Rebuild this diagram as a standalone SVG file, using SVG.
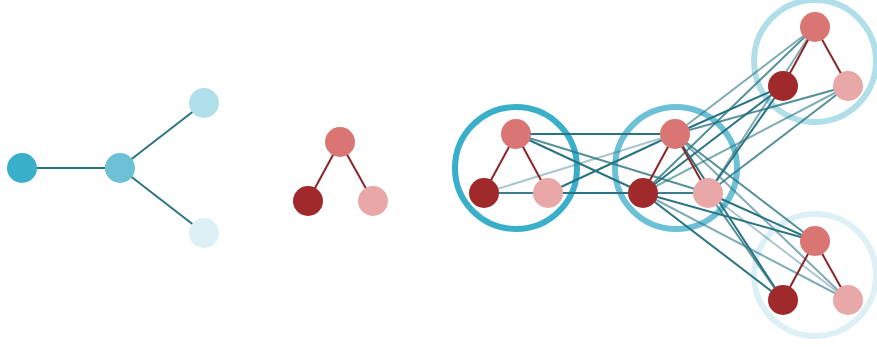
<svg xmlns="http://www.w3.org/2000/svg" width="877" height="347" viewBox="0 0 877 347">
<style>
.e{stroke:#2a7482;stroke-width:2;fill:none}
.l1{stroke-opacity:1}.l2{stroke-opacity:0.8}.l3{stroke-opacity:0.6}.l4{stroke-opacity:0.4}
.r{stroke:#8b2528;stroke-width:2}
.ring{fill:none;stroke-width:6}
.n1{fill:#3aafca}.n2{fill:#6cc1d6}.n3{fill:#b0dfe9}.n4{fill:#ddf0f6}
.a{fill:#d97674}.b{fill:#a0292b}.c{fill:#e8a8a8}
</style>
<g id="tree-edges">
<line class="e" x1="22" y1="168" x2="120" y2="168"/>
<line class="e" x1="120" y1="168" x2="204" y2="103"/>
<line class="e" x1="120" y1="168" x2="204" y2="233"/>
</g>
<g id="tree-n1"><circle class="n1" cx="22" cy="168" r="15"/></g>
<g id="tree-n2"><circle class="n2" cx="120" cy="168" r="15"/></g>
<g id="tree-n3"><circle class="n3" cx="204" cy="103" r="15"/></g>
<g id="tree-n4"><circle class="n4" cx="204" cy="233" r="15"/></g>

<g id="tri">
<line class="r" x1="340" y1="142" x2="308" y2="201"/>
<line class="r" x1="340" y1="142" x2="373" y2="201"/>
<circle class="a" cx="340" cy="142" r="15"/>
<circle class="b" cx="308" cy="201" r="15"/>
<circle class="c" cx="373" cy="201" r="15"/>
</g>

<g id="rings">
<circle class="ring" cx="516" cy="168" r="61" stroke="#3aafca"/>
<circle class="ring" cx="676" cy="168" r="61" stroke="#6cc1d6"/>
<circle class="ring" cx="815" cy="61" r="61" stroke="#b0dfe9"/>
<circle class="ring" cx="815" cy="275" r="61" stroke="#ddf0f6"/>
</g>

<g id="connectors">
<line class="e l1" x1="516" y1="134" x2="675" y2="134"/>
<line class="e l1" x1="516" y1="134" x2="643" y2="193"/>
<line class="e l2" x1="516" y1="134" x2="708" y2="193"/>
<line class="e l4" x1="484" y1="193" x2="675" y2="134"/>
<line class="e l2" x1="484" y1="193" x2="643" y2="193"/>
<line class="e l3" x1="484" y1="193" x2="708" y2="193"/>
<line class="e l1" x1="548" y1="193" x2="675" y2="134"/>
<line class="e l1" x1="548" y1="193" x2="643" y2="193"/>
<line class="e l2" x1="548" y1="193" x2="708" y2="193"/>

<line class="e l3" x1="675" y1="134" x2="815" y2="27"/>
<line class="e l1" x1="675" y1="134" x2="783" y2="86"/>
<line class="e l2" x1="675" y1="134" x2="848" y2="86"/>
<line class="e l2" x1="643" y1="193" x2="815" y2="27"/>
<line class="e l1" x1="643" y1="193" x2="783" y2="86"/>
<line class="e l3" x1="643" y1="193" x2="848" y2="86"/>
<line class="e l3" x1="708" y1="193" x2="815" y2="27"/>
<line class="e l1" x1="708" y1="193" x2="783" y2="86"/>
<line class="e l2" x1="708" y1="193" x2="848" y2="86"/>

<line class="e l2" x1="675" y1="134" x2="815" y2="241"/>
<line class="e l1" x1="675" y1="134" x2="783" y2="300"/>
<line class="e l3" x1="675" y1="134" x2="848" y2="300"/>
<line class="e l1" x1="643" y1="193" x2="815" y2="241"/>
<line class="e l1" x1="643" y1="193" x2="783" y2="300"/>
<line class="e l3" x1="643" y1="193" x2="848" y2="300"/>
<line class="e l1" x1="708" y1="193" x2="815" y2="241"/>
<line class="e l2" x1="708" y1="193" x2="783" y2="300"/>
<line class="e l4" x1="708" y1="193" x2="848" y2="300"/>
</g>

<g id="group1">
<line class="r" x1="516" y1="134" x2="484" y2="193"/>
<line class="r" x1="516" y1="134" x2="548" y2="193"/>
<circle class="a" cx="516" cy="134" r="15"/>
<circle class="b" cx="484" cy="193" r="15"/>
<circle class="c" cx="548" cy="193" r="15"/>
</g>
<g id="group2">
<line class="r" x1="675" y1="134" x2="643" y2="193"/>
<line class="r" x1="675" y1="134" x2="708" y2="193"/>
<circle class="a" cx="675" cy="134" r="15"/>
<circle class="b" cx="643" cy="193" r="15"/>
<circle class="c" cx="708" cy="193" r="15"/>
</g>
<g id="group3">
<line class="r" x1="815" y1="27" x2="783" y2="86"/>
<line class="r" x1="815" y1="27" x2="848" y2="86"/>
<circle class="a" cx="815" cy="27" r="15"/>
<circle class="b" cx="783" cy="86" r="15"/>
<circle class="c" cx="848" cy="86" r="15"/>
</g>
<g id="group4">
<line class="r" x1="815" y1="241" x2="783" y2="300"/>
<line class="r" x1="815" y1="241" x2="848" y2="300"/>
<circle class="a" cx="815" cy="241" r="15"/>
<circle class="b" cx="783" cy="300" r="15"/>
<circle class="c" cx="848" cy="300" r="15"/>
</g>
</svg>
